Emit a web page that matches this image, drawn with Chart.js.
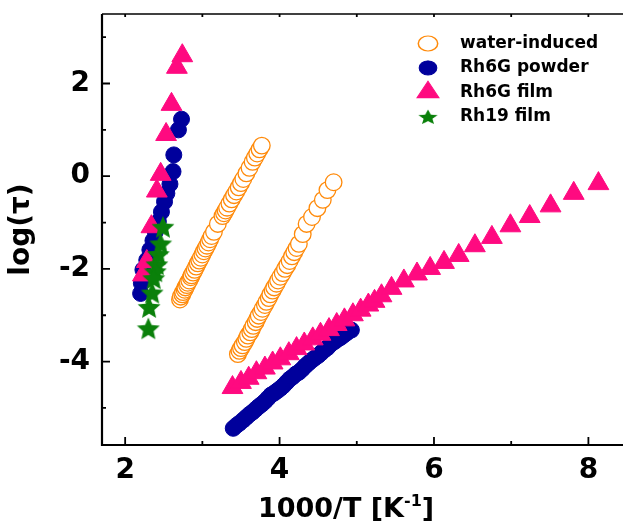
<!DOCTYPE html>
<html lang="en">
<head>
    <meta charset="UTF-8">
    <title>log(tau) vs 1000/T</title>
    <style>
        html, body {
            margin: 0;
            padding: 0;
            background: #fff;
            overflow: hidden;
        }
        .plot {
            width: 640px;
            height: 522px;
        }
    </style>
</head>
<body>
    <div class="plot">
        <canvas id="chart1"></canvas>
    </div>
    <script src="https://cdn.jsdelivr.net/npm/chart.js@4.4.0/dist/chart.umd.min.js"></script>
    <script>
        // [1000/T, log(tau)] pairs, one array per branch
        const waterLow = [
            [2.71,-2.66],[2.72,-2.60],[2.74,-2.55],[2.75,-2.50],[2.77,-2.45],[2.78,-2.40],[2.80,-2.35],
            [2.81,-2.30],[2.83,-2.25],[2.85,-2.18],[2.86,-2.14],[2.88,-2.08],[2.90,-2.02],[2.92,-1.95],
            [2.94,-1.88],[2.96,-1.82],[2.98,-1.76],[3.00,-1.69],[3.02,-1.62],[3.04,-1.56],[3.06,-1.50],
            [3.08,-1.43],[3.10,-1.36],[3.12,-1.29],[3.15,-1.20],[3.20,-1.03],[3.26,-0.86],[3.28,-0.80],
            [3.30,-0.74],[3.32,-0.68],[3.35,-0.59],[3.38,-0.50],[3.41,-0.41],[3.44,-0.33],[3.47,-0.24],
            [3.50,-0.15],[3.53,-0.06],[3.57,0.06],[3.61,0.18],[3.65,0.31],[3.68,0.40],[3.71,0.49],
            [3.74,0.58],[3.77,0.66]
        ];
        const waterHigh = [
            [3.46,-3.84],[3.48,-3.77],[3.50,-3.71],[3.52,-3.65],[3.55,-3.58],[3.57,-3.51],[3.59,-3.44],
            [3.62,-3.37],[3.64,-3.30],[3.66,-3.23],[3.69,-3.15],[3.71,-3.08],[3.73,-3.01],[3.76,-2.93],
            [3.78,-2.86],[3.81,-2.78],[3.83,-2.71],[3.86,-2.63],[3.88,-2.55],[3.91,-2.47],[3.93,-2.40],
            [3.96,-2.32],[3.98,-2.25],[4.01,-2.17],[4.04,-2.09],[4.07,-2.00],[4.10,-1.92],[4.13,-1.83],
            [4.16,-1.73],[4.19,-1.64],[4.22,-1.55],[4.25,-1.46],[4.30,-1.25],[4.35,-1.03],[4.42,-0.88],
            [4.49,-0.69],[4.56,-0.51],[4.62,-0.30],[4.70,-0.13]
        ];
        const powderSteep = [
            [2.73,1.23],[2.69,1.00],[2.63,0.46],[2.62,0.10],[2.58,-0.17],[2.54,-0.37],[2.51,-0.55],
            [2.47,-0.77],[2.43,-0.98],[2.39,-1.20],[2.36,-1.39],[2.32,-1.59],[2.28,-1.81],[2.23,-2.02],
            [2.21,-2.31],[2.20,-2.53]
        ];
        const powderLine = [
            [3.40,-5.44],[3.44,-5.38],[3.48,-5.33],[3.53,-5.26],[3.57,-5.20],[3.61,-5.14],[3.65,-5.09],
            [3.69,-5.03],[3.73,-4.97],[3.77,-4.92],[3.81,-4.86],[3.85,-4.79],[3.89,-4.72],[3.93,-4.68],
            [3.97,-4.63],[4.01,-4.58],[4.05,-4.52],[4.09,-4.45],[4.13,-4.38],[4.17,-4.33],[4.21,-4.27],
            [4.25,-4.23],[4.29,-4.17],[4.33,-4.10],[4.37,-4.04],[4.41,-3.98],[4.45,-3.93],[4.50,-3.87],
            [4.54,-3.81],[4.58,-3.75],[4.62,-3.70],[4.66,-3.63],[4.71,-3.57],[4.75,-3.52],[4.79,-3.48],
            [4.83,-3.43],[4.87,-3.38],[4.93,-3.32]
        ];
        const filmSteep = [
            [2.74,2.60],[2.67,2.35],[2.60,1.55],[2.53,0.90],[2.46,0.04],[2.41,-0.32],[2.34,-1.09],
            [2.28,-1.84],[2.23,-2.13]
        ];
        const filmLine = [
            [3.39,-4.56],[3.50,-4.45],[3.60,-4.36],[3.70,-4.24],[3.81,-4.14],[3.91,-4.03],[4.01,-3.94],
            [4.12,-3.83],[4.22,-3.72],[4.32,-3.62],[4.43,-3.51],[4.53,-3.41],[4.64,-3.31],[4.74,-3.20],
            [4.84,-3.10],[4.95,-2.99],[5.05,-2.89],[5.15,-2.78],[5.23,-2.70],[5.32,-2.58],[5.45,-2.42],
            [5.61,-2.26],[5.78,-2.11],[5.95,-1.99],[6.13,-1.86],[6.32,-1.71],[6.53,-1.50],[6.75,-1.32],
            [6.99,-1.07],[7.24,-0.87],[7.51,-0.64],[7.81,-0.37],[8.13,-0.16]
        ];
        const rh19Film = [
            [2.49,-1.09],[2.46,-1.45],[2.43,-1.68],[2.41,-1.90],[2.39,-2.05],[2.37,-2.20],[2.35,-2.51],
            [2.31,-2.82],[2.30,-3.28]
        ];

        const seriesNames = ['water-induced', 'Rh6G powder', 'Rh6G film', 'Rh19 film'];
        const xLabelTicks = [2, 4, 6, 8];
        const xMinorTicks = [3, 5, 7];
        const yLabelTicks = [-4, -2, 0, 2];
        const yMinorTicks = [-5, -3, -1, 1, 3];

        const toXY = arr => arr.map(p => ({x: p[0], y: p[1]}));
        const FONT = 'DejaVu Sans';

        // filled five point star used as point style
        function makeStar(size, color) {
            const c = document.createElement('canvas');
            c.width = size;
            c.height = size;
            const g = c.getContext('2d');
            g.fillStyle = color;
            g.beginPath();
            for (let i = 0; i < 10; i++) {
                const r = i % 2 ? size * 0.23 : size / 2;
                const a = -Math.PI / 2 + i * Math.PI / 5;
                g.lineTo(size / 2 + r * Math.cos(a), size / 2 + r * Math.sin(a) + size * 0.05);
            }
            g.closePath();
            g.fill();
            return c;
        }
        const star = makeStar(24, '#0a800a');

        // axis box + inward ticks + x title with superscript
        const frame = {
            id: 'frame',
            afterDatasetsDraw(chart) {
                const ctx = chart.ctx;
                const a = chart.chartArea;
                const x = chart.scales.x;
                const y = chart.scales.y;
                ctx.save();
                ctx.strokeStyle = '#000';
                ctx.lineWidth = 1.5;
                ctx.beginPath();
                ctx.moveTo(a.left, a.top);
                ctx.lineTo(a.right, a.top);
                ctx.stroke();
                ctx.lineWidth = 2.2;
                ctx.beginPath();
                ctx.moveTo(a.left, a.top);
                ctx.lineTo(a.left, a.bottom);
                ctx.lineTo(a.right, a.bottom);
                ctx.stroke();

                ctx.lineWidth = 1.8;
                ctx.beginPath();
                xLabelTicks.concat(xMinorTicks).forEach(v => {
                    const px = x.getPixelForValue(v);
                    const len = xLabelTicks.includes(v) ? 8 : 4;
                    ctx.moveTo(px, a.bottom);
                    ctx.lineTo(px, a.bottom - len);
                    ctx.moveTo(px, a.top);
                    ctx.lineTo(px, a.top + 3);
                });
                yLabelTicks.concat(yMinorTicks).forEach(v => {
                    const py = y.getPixelForValue(v);
                    const len = yLabelTicks.includes(v) ? 8 : 4;
                    ctx.moveTo(a.left, py);
                    ctx.lineTo(a.left + len, py);
                });
                ctx.stroke();

                // 1000/T [K^-1]
                ctx.fillStyle = '#000';
                ctx.textBaseline = 'alphabetic';
                const main = 'bold 27px "' + FONT + '"';
                const sup = 'bold 16px "' + FONT + '"';
                ctx.font = main;
                const w1 = ctx.measureText('1000/T [K').width;
                const w3 = ctx.measureText(']').width;
                ctx.font = sup;
                const w2 = ctx.measureText('-1').width;
                let tx = 346 - (w1 + w2 + w3) / 2;
                const base = 517;
                ctx.font = main;
                ctx.fillText('1000/T [K', tx, base);
                tx += w1;
                ctx.font = sup;
                ctx.fillText('-1', tx, base - 11);
                tx += w2;
                ctx.font = main;
                ctx.fillText(']', tx, base);
                ctx.restore();
            }
        };

        // legend drawn inside the plot, markers slightly widened
        const legendScale = [[1.17, 0.9], [1.1, 0.88], [1.06, 0.93], [0.85, 0.66]];
        const legendBox = {
            id: 'legendBox',
            afterDraw(chart) {
                const ctx = chart.ctx;
                ctx.save();
                chart.data.datasets.forEach((ds, i) => {
                    const ly = 43.5 + i * 24.4;
                    ctx.save();
                    ctx.translate(428, ly);
                    ctx.scale(legendScale[i][0], legendScale[i][1]);
                    ctx.fillStyle = ds.backgroundColor;
                    ctx.strokeStyle = ds.borderColor;
                    ctx.lineWidth = ds.borderWidth;
                    Chart.helpers.drawPoint(ctx, {
                        pointStyle: ds.pointStyle,
                        radius: ds.pointRadius,
                        borderWidth: ds.borderWidth,
                        rotation: 0
                    }, 0, 0);
                    ctx.restore();
                    ctx.fillStyle = '#000';
                    ctx.font = 'bold 17px "' + FONT + '"';
                    ctx.textBaseline = 'middle';
                    ctx.fillText(ds.label, 460, ly);
                });
                ctx.restore();
            }
        };

        new Chart(chart1, {
            type: 'scatter',
            data: {
                datasets: [
                    {
                        label: seriesNames[0],
                        data: toXY(waterLow.concat(waterHigh)),
                        pointStyle: 'circle',
                        pointRadius: 8.3,
                        borderWidth: 1.3,
                        borderColor: '#ff8a0a',
                        backgroundColor: '#ffffff',
                        order: 4
                    },
                    {
                        label: seriesNames[1],
                        data: toXY(powderSteep.concat(powderLine)),
                        pointStyle: 'circle',
                        pointRadius: 8,
                        borderWidth: 1,
                        borderColor: '#00009c',
                        backgroundColor: '#00009c',
                        order: 3
                    },
                    {
                        label: seriesNames[2],
                        data: toXY(filmSteep.concat(filmLine)),
                        pointStyle: 'triangle',
                        pointRadius: 12,
                        borderWidth: 1,
                        borderColor: '#ff0a80',
                        backgroundColor: '#ff0a80',
                        order: 2
                    },
                    {
                        label: seriesNames[3],
                        data: toXY(rh19Film),
                        pointStyle: star,
                        pointRadius: 12,
                        borderWidth: 0,
                        borderColor: '#0a800a',
                        backgroundColor: '#0a800a',
                        order: 1
                    }
                ]
            },
            options: {
                maintainAspectRatio: false,
                animation: false,
                events: [],
                layout: {
                    padding: {left: 0, right: 12, top: 14, bottom: 0}
                },
                plugins: {
                    legend: {display: false},
                    tooltip: {enabled: false}
                },
                scales: {
                    x: {
                        type: 'linear',
                        min: 1.7,
                        max: 8.5,
                        grid: {display: false, drawTicks: false},
                        border: {display: false},
                        afterBuildTicks: s => { s.ticks = xLabelTicks.map(v => ({value: v})); },
                        afterFit: s => {
                            s.height = 77;
                            s.paddingLeft = 0;
                            s.paddingRight = 0;
                        },
                        ticks: {
                            padding: 9,
                            color: '#000',
                            font: {family: FONT, weight: 'bold', size: 28}
                        }
                    },
                    y: {
                        type: 'linear',
                        min: -5.8,
                        max: 3.5,
                        grid: {display: false, drawTicks: false},
                        border: {display: false},
                        afterBuildTicks: s => { s.ticks = yLabelTicks.map(v => ({value: v})); },
                        afterFit: s => {
                            s.width = 102;
                            s.paddingTop = 0;
                            s.paddingBottom = 0;
                        },
                        ticks: {
                            padding: 12,
                            color: '#000',
                            font: {family: FONT, weight: 'bold', size: 28}
                        },
                        title: {
                            display: true,
                            text: 'log(τ)',
                            color: '#000',
                            padding: {top: 5, bottom: 0},
                            font: {family: FONT, weight: 'bold', size: 28}
                        }
                    }
                }
            },
            plugins: [frame, legendBox]
        });
    </script>
</body>
</html>
